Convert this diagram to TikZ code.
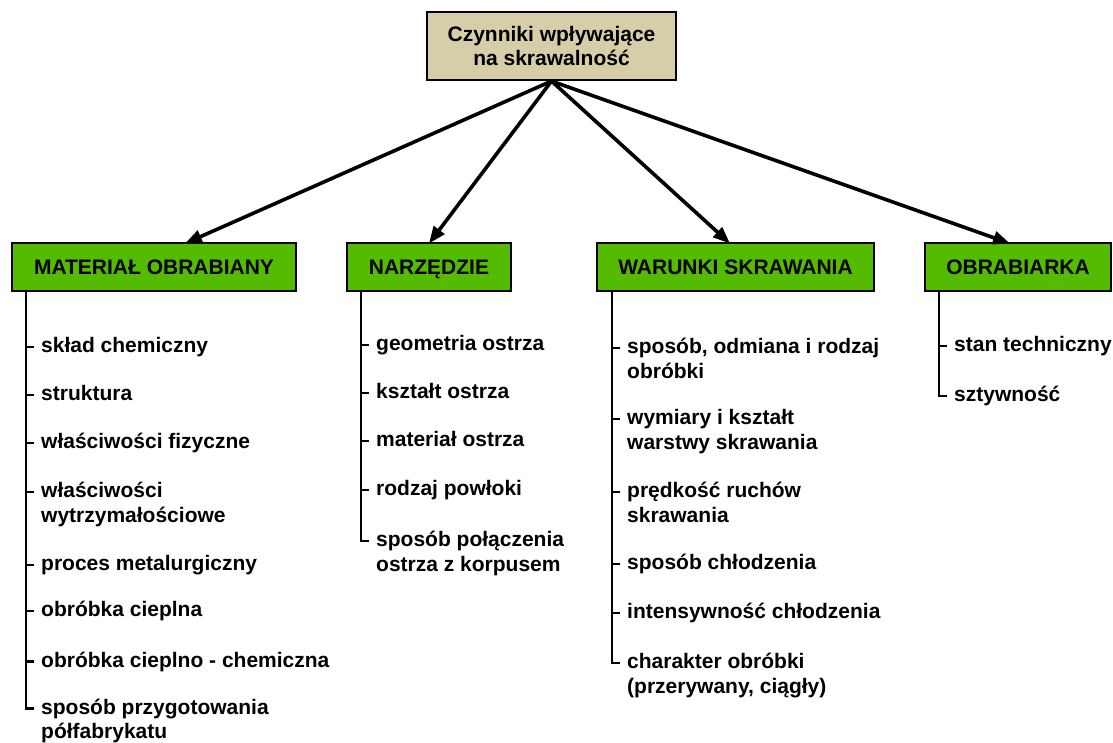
\documentclass[tikz,border=0pt]{standalone}
\usepackage{fontspec}
\setmainfont{Liberation Sans}
\usetikzlibrary{arrows.meta}
\definecolor{tanbox}{RGB}{214,206,168}
\definecolor{greenbox}{RGB}{85,187,0}
\newcommand\itm[1]{\begin{tabular}[t]{@{}l@{}}#1\end{tabular}}
\begin{document}
\begin{tikzpicture}[x=1pt,y=-1pt,
  every node/.style={font=\fontsize{21}{24.5}\selectfont\bfseries},
  topbox/.style={draw, line width=2.2pt, fill=tanbox, minimum width=249pt, minimum height=68pt, align=center, inner sep=0pt},
  catbox/.style={draw, line width=2.2pt, fill=greenbox, minimum height=48pt, inner sep=0pt, text height=15pt, text depth=0pt},
  item/.style={anchor=base west, inner sep=0pt},
  branch/.style={line width=2.8pt},
  tick/.style={line width=2.4pt},
  arr/.style={line width=3.6pt, -{Triangle[length=17pt,width=13pt]}}
]
\useasboundingbox (0,0) rectangle (1113,742);
\fill[white] (0,0) rectangle (1113,742);

\node[topbox] (top) at (551.5,46) {Czynniki wpływające\\[-1pt]na skrawalność};

\node[catbox, minimum width=284pt] (mat) at (154,267) {MATERIAŁ OBRABIANY};
\node[catbox, minimum width=164pt] (nar) at (429,267) {NARZĘDZIE};
\node[catbox, minimum width=277pt] (war) at (735.5,267) {WARUNKI SKRAWANIA};
\node[catbox, minimum width=186pt] (obr) at (1018,267) {OBRABIARKA};

\draw[arr] (top.south) -- (185,243.5) coordinate (a1);
\draw[arr] (top.south) -- (429,243.5) coordinate (a2);
\draw[arr] (top.south) -- (730,243.5) coordinate (a3);
\draw[arr] (top.south) -- (1010,243.5) coordinate (a4);

% MATERIAL
\node[item] (m1) at (41,352.5) {\itm{skład chemiczny}};
\node[item] (m2) at (41,400.5) {\itm{struktura}};
\node[item] (m3) at (41,448.5) {\itm{właściwości fizyczne}};
\node[item] (m4) at (41,497.5) {\itm{właściwości\\wytrzymałościowe}};
\node[item] (m5) at (41,570.5) {\itm{proces metalurgiczny}};
\node[item] (m6) at (41,616.5) {\itm{obróbka cieplna}};
\node[item] (m7) at (41,667) {\itm{obróbka cieplno - chemiczna}};
\node[item] (m8) at (41,714) {\itm{sposób przygotowania\\półfabrykatu}};
\draw[branch] ([xshift=15pt]mat.south west) |- ([xshift=-7pt,yshift=5.5pt]m8.base west);
\foreach \n in {m1,m2,m3,m4,m5,m6,m7}
  \draw[tick] ([xshift=-15pt,yshift=5.5pt]\n.base west) -- ([xshift=-7pt,yshift=5.5pt]\n.base west);

% NARZEDZIE
\node[item] (n1) at (376,350.5) {\itm{geometria ostrza}};
\node[item] (n2) at (376,398.5) {\itm{kształt ostrza}};
\node[item] (n3) at (376,446.5) {\itm{materiał ostrza}};
\node[item] (n4) at (376,495.5) {\itm{rodzaj powłoki}};
\node[item] (n5) at (376,546.5) {\itm{sposób połączenia\\ostrza z korpusem}};
\draw[branch] ([xshift=15pt]nar.south west) |- ([xshift=-7pt,yshift=5.5pt]n5.base west);
\foreach \n in {n1,n2,n3,n4}
  \draw[tick] ([xshift=-15pt,yshift=5.5pt]\n.base west) -- ([xshift=-7pt,yshift=5.5pt]\n.base west);

% WARUNKI
\node[item] (w1) at (627,353.5) {\itm{sposób, odmiana i rodzaj\\obróbki}};
\node[item] (w2) at (627,424.5) {\itm{wymiary i kształt\\warstwy skrawania}};
\node[item] (w3) at (627,497.5) {\itm{prędkość ruchów\\skrawania}};
\node[item] (w4) at (627,569.5) {\itm{sposób chłodzenia}};
\node[item] (w5) at (627,618.5) {\itm{intensywność chłodzenia}};
\node[item] (w6) at (627,668.5) {\itm{charakter obróbki\\(przerywany, ciągły)}};
\draw[branch] ([xshift=16pt]war.south west) |- ([xshift=-7pt,yshift=5.5pt]w6.base west);
\foreach \n in {w1,w2,w3,w4,w5}
  \draw[tick] ([xshift=-14pt,yshift=5.5pt]\n.base west) -- ([xshift=-7pt,yshift=5.5pt]\n.base west);

% OBRABIARKA
\node[item] (o1) at (954,351.5) {\itm{stan techniczny}};
\node[item] (o2) at (954,401.5) {\itm{sztywność}};
\draw[branch] ([xshift=15pt]obr.south west) |- ([xshift=-7pt,yshift=5.5pt]o2.base west);
\draw[tick] ([xshift=-14pt,yshift=5.5pt]o1.base west) -- ([xshift=-7pt,yshift=5.5pt]o1.base west);
\end{tikzpicture}
\end{document}
